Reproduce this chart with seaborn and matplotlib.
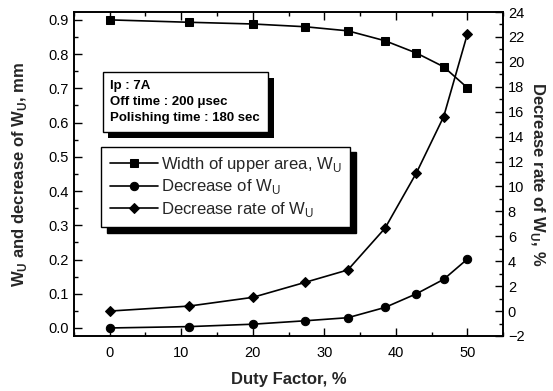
import matplotlib
matplotlib.use("Agg")
import matplotlib.pyplot as plt
import matplotlib.patheffects as pe
from matplotlib.ticker import MultipleLocator
import seaborn as sns
import pandas as pd

sns.set_theme(style="white")
plt.rcParams['font.family'] = ['Liberation Sans', 'DejaVu Sans']

duty = [0, 11.1, 20, 27.3, 33.3, 38.5, 42.9, 46.7, 50]
width_wu = [0.900, 0.893, 0.888, 0.880, 0.868, 0.839, 0.803, 0.763, 0.702]
decrease_wu = [0.000, 0.004, 0.011, 0.021, 0.030, 0.060, 0.100, 0.142, 0.201]
decrease_rate = [0.0, 0.4, 1.1, 2.3, 3.3, 6.65, 11.1, 15.6, 22.2]
xticks = [0, 10, 20, 30, 40, 50]
yticks_left = [0.0, 0.1, 0.2, 0.3, 0.4, 0.5, 0.6, 0.7, 0.8, 0.9]

df = pd.DataFrame({"duty": duty, "width": width_wu, "dec": decrease_wu, "rate": decrease_rate})

fig = plt.figure(figsize=(5.53, 3.91), dpi=100)
ax = fig.add_axes([0.1338, 0.1407, 0.9096 - 0.1338, 0.9693 - 0.1407])
ax2 = ax.twinx()

kw = dict(color="black", linewidth=1.2, markeredgecolor="black", markersize=6)
sns.lineplot(data=df, x="duty", y="width", ax=ax, marker="s", label="Width of upper area, W$_\\mathregular{U}$", legend=False, **kw)
sns.lineplot(data=df, x="duty", y="dec", ax=ax, marker="o", label="Decrease of W$_\\mathregular{U}$", legend=False, **kw)
sns.lineplot(data=df, x="duty", y="rate", ax=ax2, marker="D", label="Decrease rate of W$_\\mathregular{U}$", legend=False,
             color="black", linewidth=1.2, markeredgecolor="black", markersize=5.5)

ax.set_xlim(-5, 55)
ax.set_ylim(-0.0234, 0.923)
ax2.set_ylim(-2, 24)

ax.xaxis.set_minor_locator(MultipleLocator(5))
ax.yaxis.set_minor_locator(MultipleLocator(0.05))
ax2.yaxis.set_major_locator(MultipleLocator(2))
ax2.yaxis.set_minor_locator(MultipleLocator(1))
ax.set_yticks(yticks_left)
ax.set_yticklabels([f"{v:.1f}" for v in yticks_left])
ax.set_xticks(xticks)

ax.tick_params(axis="x", which="both", direction="in", top=True, bottom=True, labelsize=10.5, pad=7, colors="black")
ax.tick_params(axis="x", which="major", length=6, width=1)
ax.tick_params(axis="x", which="minor", length=3, width=1)
ax.tick_params(axis="y", which="both", direction="in", left=True, right=False, labelsize=10.5, colors="black")
ax.tick_params(axis="y", which="major", length=6, width=1)
ax.tick_params(axis="y", which="minor", length=3, width=1)
ax2.tick_params(axis="y", which="both", direction="in", right=True, labelsize=10.5, colors="black")
ax2.tick_params(axis="y", which="major", length=6, width=1)
ax2.tick_params(axis="y", which="minor", length=3, width=1)

for a in (ax, ax2):
    for s in a.spines.values():
        s.set_color("black")
        s.set_linewidth(1.2)

ax.set_xlabel("Duty Factor, %", fontsize=12, fontweight="bold", labelpad=9)
ax.set_ylabel("W$_\\mathregular{U}$ and decrease of W$_\\mathregular{U}$, mm", fontsize=12, fontweight="bold", labelpad=14)
ax2.set_ylabel("Decrease rate of W$_\\mathregular{U}$, %", fontsize=12, fontweight="bold", rotation=270, labelpad=16)

# Legend with solid shadow
h1, l1 = ax.get_legend_handles_labels()
h2, l2 = ax2.get_legend_handles_labels()
leg = ax2.legend(h1 + h2, l1 + l2, loc="upper left", bbox_to_anchor=(0.044, 0.61),
                 fontsize=12, frameon=True, fancybox=False, framealpha=1,
                 edgecolor="black", handlelength=2.9, handletextpad=0.2,
                 labelspacing=0.2, borderpad=0.5,
                 shadow={"color": "black", "alpha": 1, "ox": 4, "oy": -4})
leg.get_frame().set_linewidth(1.0)

# Info text box with shadow
info = "Ip : 7A\nOff time : 200 \u03bcsec\nPolishing time : 180 sec"
t = ax2.text(0.085, 0.79, info, transform=ax2.transAxes, fontsize=9.5, fontweight="bold", va="top", ha="left",
             color="black", linespacing=1.45,
             bbox=dict(boxstyle="square,pad=0.6", fc="white", ec="black", lw=1.0), zorder=5)
t.get_bbox_patch().set_path_effects([
    pe.SimplePatchShadow(offset=(4, -4), shadow_rgbFace="black", alpha=1.0),
    pe.Normal(),
])

fig.savefig("out.png", dpi=100)
